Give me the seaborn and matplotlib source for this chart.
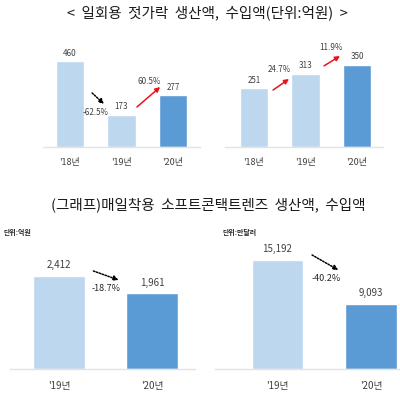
import matplotlib
matplotlib.use("Agg")
import matplotlib.pyplot as plt
import seaborn as sns

#%% DATA
chop_years = ["'18년", "'19년", "'20년"]
chop_prod = [460, 173, 277]
chop_imp = [251, 313, 350]
chop_prod_pct = ["-62.5%", "60.5%"]
chop_imp_pct = ["24.7%", "11.9%"]

lens_years = ["'19년", "'20년"]
lens_prod = [2412, 1961]
lens_imp = [15192, 9093]
lens_prod_pct = ["-18.7%"]
lens_imp_pct = ["-40.2%"]

#%% AES
sns.set_style("white")
plt.rcParams['font.family'] = ['Noto Sans CJK KR', 'DejaVu Sans']
LIGHT = '#BDD7EE'
DARK = '#5B9BD5'
RED = '#E8141B'
W, H = 400, 395

fig = plt.figure(figsize=(4.0, 3.95), dpi=100)


def px_axes(x0, x1, ytop, ybot):
    return fig.add_axes([x0 / W, 1 - ybot / H, (x1 - x0) / W, (ybot - ytop) / H])


def bars(ax, cats, vals, width, fs, off, lab_fs, pad):
    cols = [LIGHT] * (len(cats) - 1) + [DARK]
    sns.barplot(x=cats, y=vals, hue=cats, palette=cols, legend=False,
                width=width, saturation=1, ax=ax)
    for i, v in enumerate(vals):
        ax.annotate(f"{v:,}", (i, v), xytext=(0, off), textcoords='offset points',
                    ha='center', va='bottom', fontsize=fs, color='#404040')
    sns.despine(ax=ax, left=True)
    ax.spines['bottom'].set_color('#E3E3E3')
    ax.spines['bottom'].set_linewidth(1)
    ax.set_yticks([])
    ax.set_xlabel("")
    ax.set_ylabel("")
    ax.tick_params(axis='x', length=0, pad=pad, labelsize=lab_fs, labelcolor='#404040')


def arrow(ax, start, end, color, dotted=False):
    props = dict(arrowstyle='-|>', color=color, lw=1.1, mutation_scale=7,
                 shrinkA=0, shrinkB=0)
    if dotted:
        props['linestyle'] = (0, (1, 1))
    ax.annotate("", xy=end, xytext=start, arrowprops=props)


#%% CHOPSTICKS - PRODUCTION
ax1 = px_axes(43, 200, 30, 147)
bars(ax1, chop_years, chop_prod, 0.544, 5.8, 2.5, 6.5, 8)
ax1.set_xlim(-0.524, 2.524)
ax1.set_ylim(0, 626)
arrow(ax1, (0.43, 289), (0.66, 230), 'black', dotted=True)
ax1.text(0.49, 182, chop_prod_pct[0], ha='center', va='center', fontsize=5.8, color='#404040')
arrow(ax1, (1.30, 214), (1.75, 321), RED)
ax1.text(1.53, 348, chop_prod_pct[1], ha='center', va='center', fontsize=5.8, color='#404040')

#%% CHOPSTICKS - IMPORTS
ax2 = px_axes(225, 383, 30, 147)
bars(ax2, chop_years, chop_imp, 0.544, 5.8, 2.5, 6.5, 8)
ax2.set_xlim(-0.563, 2.505)
ax2.set_ylim(0, 499)
arrow(ax2, (0.37, 243), (0.68, 290), RED)
ax2.text(0.49, 329, chop_imp_pct[0], ha='center', va='center', fontsize=5.8, color='#404040')
arrow(ax2, (1.36, 346), (1.67, 388), RED)
ax2.text(1.50, 423, chop_imp_pct[1], ha='center', va='center', fontsize=5.8, color='#404040')

#%% LENSES - PRODUCTION
ax3 = px_axes(10, 195, 240, 369)
bars(ax3, lens_years, lens_prod, 0.55, 7, 4, 7, 8.5)
ax3.set_xlim(-0.527, 1.462)
ax3.set_ylim(0, 3345)
arrow(ax3, (0.37, 2541), (0.64, 2308), 'black', dotted=True)
ax3.text(0.505, 2075, lens_prod_pct[0], ha='center', va='center', fontsize=6.5, color='#262626')

#%% LENSES - IMPORTS
ax4 = px_axes(215, 400, 240, 369)
bars(ax4, lens_years, lens_imp, 0.55, 7, 4, 7, 8.5)
ax4.set_xlim(-0.668, 1.31)
ax4.set_ylim(0, 17979)
arrow(ax4, (0.37, 15889), (0.65, 13798), 'black', dotted=True)
ax4.text(0.52, 12544, lens_imp_pct[0], ha='center', va='center', fontsize=6.5, color='#262626')

#%% TITLES
fig.text(207 / W, 1 - 13 / H, "<  일회용  젓가락  생산액,  수입액(단위:억원)  >",
         ha='center', va='center', fontsize=10.5, color='#1a1a1a')
fig.text(208 / W, 1 - 205 / H, "(그래프)매일착용  소프트콘택트렌즈  생산액,  수입액",
         ha='center', va='center', fontsize=10.5, color='#1a1a1a')
fig.text(3 / W, 1 - 233 / H, "단위:억원", ha='left', va='center',
         fontsize=5, fontweight='bold', color='#262626')
fig.text(222 / W, 1 - 233 / H, "단위:만달러", ha='left', va='center',
         fontsize=5, fontweight='bold', color='#262626')

fig.savefig("out.png", dpi=100)
